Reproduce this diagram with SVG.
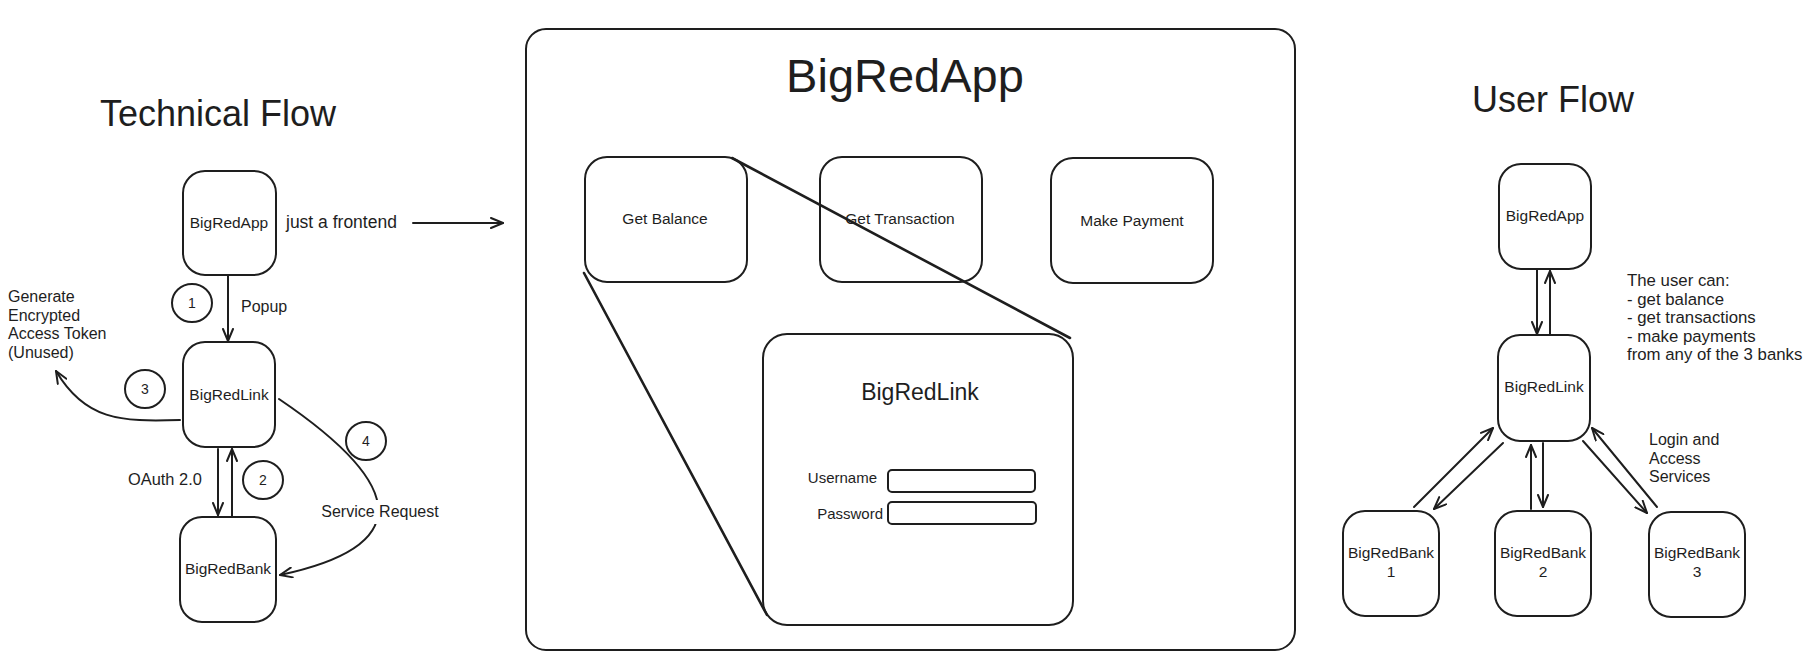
<svg xmlns="http://www.w3.org/2000/svg" width="1812" height="665" viewBox="0 0 1812 665">
<style>
.box{fill:#fff;stroke:#1e1e1e;stroke-width:2}
.ln{fill:none;stroke:#1e1e1e;stroke-width:2;stroke-linecap:round}
.thick{fill:none;stroke:#1e1e1e;stroke-width:2.6;stroke-linecap:round}
text{font-family:"Liberation Sans",Arial,sans-serif;fill:#1e1e1e}
.t{font-size:16px}
.u{font-size:16.8px}
.lbl{font-size:15.5px;text-anchor:middle}
.c{text-anchor:middle}
.h{font-size:36px}
</style>
<defs>
<marker id="ah" viewBox="0 0 14 12" refX="13" refY="6" markerWidth="14" markerHeight="12" markerUnits="userSpaceOnUse" orient="auto">
<path d="M1,1 L13,6 L1,11" fill="none" stroke="#1e1e1e" stroke-width="2" stroke-linecap="round" stroke-linejoin="round"/>
</marker>
</defs>
<rect width="1812" height="665" fill="#fff"/>

<!-- Titles -->
<text class="h" x="100" y="126">Technical Flow</text>
<text class="h" x="1472" y="112">User Flow</text>

<!-- Connectors -->
<g id="connectors">
<path class="ln" d="M413,223 L503,223" marker-end="url(#ah)"/>
<path class="ln" d="M228,276 L228,341" marker-end="url(#ah)"/>
<path class="ln" d="M180,420 C120,422 85,420 56,371" marker-end="url(#ah)"/>
<path class="ln" d="M218,449 L218,515" marker-end="url(#ah)"/>
<path class="ln" d="M232,516 L232,449" marker-end="url(#ah)"/>
<path class="ln" d="M279,399 Q477,533 280,575" marker-end="url(#ah)"/>
<rect x="318" y="500" width="124" height="24" fill="#fff"/>
<path class="thick" d="M732,158 L1070,338"/>
<path class="thick" d="M584,273 L767,615"/>
<path class="ln" d="M1537,270 L1537,334" marker-end="url(#ah)"/>
<path class="ln" d="M1550,334 L1550,271" marker-end="url(#ah)"/>
<path class="ln" d="M1414,507 L1493,428" marker-end="url(#ah)"/>
<path class="ln" d="M1503,443 L1434,509" marker-end="url(#ah)"/>
<path class="ln" d="M1531,509 L1531,445" marker-end="url(#ah)"/>
<path class="ln" d="M1543,443 L1543,507" marker-end="url(#ah)"/>
<path class="ln" d="M1583,441 L1647,513" marker-end="url(#ah)"/>
<path class="ln" d="M1657,507 L1592,428" marker-end="url(#ah)"/>
</g>

<!-- Technical flow labels -->
<text x="286" y="228" font-size="17.5">just a frontend</text>
<text class="t" x="241" y="312">Popup</text>
<text class="t" x="8" y="302">Generate</text>
<text class="t" x="8" y="321">Encrypted</text>
<text class="t" x="8" y="339">Access Token</text>
<text class="t" x="8" y="358">(Unused)</text>
<text x="128" y="485" font-size="16.4">OAuth 2.0</text>
<text class="t c" x="380" y="517">Service Request</text>

<g id="step1"><ellipse class="box" cx="192" cy="303" rx="20" ry="19"/><text class="c" x="192" y="308" font-size="14">1</text></g>
<g id="step2"><ellipse class="box" cx="263" cy="480" rx="20" ry="19"/><text class="c" x="263" y="485" font-size="14">2</text></g>
<g id="step3"><ellipse class="box" cx="145" cy="389" rx="20" ry="19"/><text class="c" x="145" y="394" font-size="14">3</text></g>
<g id="step4"><ellipse class="box" cx="366" cy="441" rx="20" ry="19"/><text class="c" x="366" y="446" font-size="14">4</text></g>

<g id="tf-app"><rect class="box" x="183" y="171" width="93" height="104" rx="22"/><text class="lbl" x="229" y="228">BigRedApp</text></g>
<g id="tf-link"><rect class="box" x="183" y="342" width="92" height="105" rx="22"/><text class="lbl" x="229" y="400">BigRedLink</text></g>
<g id="tf-bank"><rect class="box" x="180" y="517" width="96" height="105" rx="22"/><text class="lbl" x="228" y="574">BigRedBank</text></g>

<!-- BigRedApp frame -->
<g id="frame">
<rect class="box" x="526" y="29" width="769" height="621" rx="20" style="fill:none"/>
<text class="c" x="905" y="92" font-size="47">BigRedApp</text>
</g>
<g id="get-balance"><rect class="box" x="585" y="157" width="162" height="125" rx="22" style="fill:none"/><text class="lbl" x="665" y="224">Get Balance</text></g>
<g id="get-transaction"><rect class="box" x="820" y="157" width="162" height="125" rx="22" style="fill:none"/><text class="lbl" x="900" y="224">Get Transaction</text></g>
<g id="make-payment"><rect class="box" x="1051" y="158" width="162" height="125" rx="22" style="fill:none"/><text class="lbl" x="1132" y="226">Make Payment</text></g>
<g id="link-mock">
<rect class="box" x="763" y="334" width="310" height="291" rx="24" style="fill:none"/>
<text class="c" x="920" y="400" font-size="23">BigRedLink</text>
<text x="877" y="483" font-size="15" text-anchor="end">Username</text>
<rect class="box" x="888" y="470" width="147" height="22" rx="4"/>
<text x="883" y="519" font-size="15" text-anchor="end">Password</text>
<rect class="box" x="888" y="502" width="148" height="22" rx="4"/>
</g>

<!-- User flow -->
<g id="uf-app"><rect class="box" x="1499" y="164" width="92" height="105" rx="22"/><text class="lbl" x="1545" y="221">BigRedApp</text></g>
<g id="uf-link"><rect class="box" x="1498" y="335" width="92" height="106" rx="22"/><text class="lbl" x="1544" y="392">BigRedLink</text></g>
<g id="uf-bank1"><rect class="box" x="1343" y="511" width="96" height="105" rx="22"/><text class="lbl" x="1391" y="558">BigRedBank</text><text class="lbl" x="1391" y="577">1</text></g>
<g id="uf-bank2"><rect class="box" x="1495" y="511" width="96" height="105" rx="22"/><text class="lbl" x="1543" y="558">BigRedBank</text><text class="lbl" x="1543" y="577">2</text></g>
<g id="uf-bank3"><rect class="box" x="1649" y="512" width="96" height="105" rx="22"/><text class="lbl" x="1697" y="558">BigRedBank</text><text class="lbl" x="1697" y="577">3</text></g>

<text class="u" x="1627" y="286">The user can:</text>
<text class="u" x="1627" y="305">- get balance</text>
<text class="u" x="1627" y="323">- get transactions</text>
<text class="u" x="1627" y="342">- make payments</text>
<text class="u" x="1627" y="360">from any of the 3 banks</text>
<text class="t" x="1649" y="445">Login and</text>
<text class="t" x="1649" y="464">Access</text>
<text class="t" x="1649" y="482">Services</text>
</svg>
